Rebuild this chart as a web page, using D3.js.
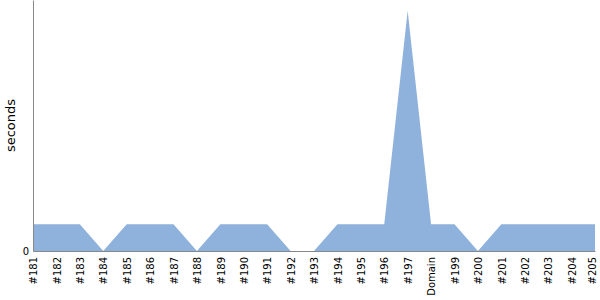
<!DOCTYPE html>
<html><head><meta charset="utf-8">
<script src="https://cdn.jsdelivr.net/npm/d3@7"></script>
<style>body{margin:0;background:#fff}svg{display:block}</style>
</head><body><svg id="c" width="600" height="300"></svg>
<script>
const categories = ["#181","#182","#183","#184","#185","#186","#187","#188","#189","#190","#191","#192","#193","#194","#195","#196","#197","Domain","#199","#200","#201","#202","#203","#204","#205"];
const seconds = [1,1,1,0,1,1,1,0,1,1,1,0,0,1,1,1,9,1,1,0,1,1,1,1,1];
const yTicks = [0];
const yLabel = "seconds";
const FONT = "DejaVu Sans";

const svg = d3.select("#c");
const m = {l:33, r:5, t:0, b:49};
const W = 600, H = 300;
const x = d3.scalePoint().domain(categories).range([m.l, W - m.r]);
const y = d3.scaleLinear().domain([0, 9.4]).range([H - m.b, m.t]);

const data = categories.map((c,i)=>({c, v: seconds[i]}));
svg.append("path").datum(data)
  .attr("fill", "#8fb2dc")
  .attr("d", d3.area().x(d=>x(d.c)).y0(y(0)).y1(d=>y(d.v)));

const xa = svg.append("g").attr("transform", `translate(0,${H-m.b})`)
  .call(d3.axisBottom(x).tickSize(0).tickPadding(4));
xa.attr("font-family", FONT);
xa.select(".domain").attr("stroke", "#888");
xa.selectAll("text")
  .style("font-family", FONT)
  .attr("font-size", 10).attr("fill", "#000")
  .attr("transform", "rotate(-90)")
  .attr("text-anchor", "end")
  .attr("dx", "-6px").attr("y", 0)
  .attr("dy", (d,i,n) => i === n.length - 1 ? "0.05em" : "0.37em");

const ya = svg.append("g").attr("transform", `translate(${m.l},0)`)
  .call(d3.axisLeft(y).tickValues(yTicks).tickSize(0).tickPadding(4));
ya.attr("font-family", FONT);
ya.select(".domain").attr("stroke", "#888");
ya.selectAll("text").style("font-family", FONT).attr("font-size", 10).attr("fill", "#000");

svg.append("text").attr("transform", `translate(15,${(m.t + H - m.b)/2}) rotate(-90)`)
  .style("font-family", FONT)
  .attr("text-anchor", "middle").attr("font-size", 13).attr("fill", "#000").text(yLabel);
</script></body></html>
